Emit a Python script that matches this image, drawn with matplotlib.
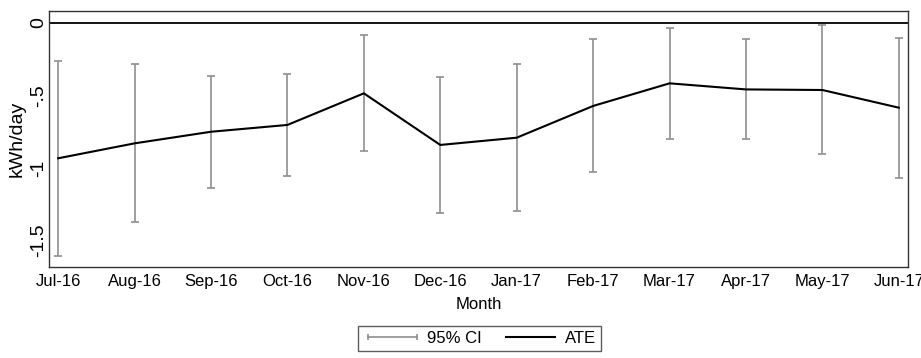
import numpy as np
import matplotlib
matplotlib.use('Agg')
import matplotlib.pyplot as plt
from matplotlib.lines import Line2D

months = ['Jul-16', 'Aug-16', 'Sep-16', 'Oct-16', 'Nov-16', 'Dec-16',
          'Jan-17', 'Feb-17', 'Mar-17', 'Apr-17', 'May-17', 'Jun-17']
ate = [-0.933, -0.83, -0.75, -0.703, -0.485, -0.841,
       -0.791, -0.572, -0.416, -0.458, -0.462, -0.584]
ci_hi = [-0.262, -0.285, -0.363, -0.35, -0.083, -0.375,
         -0.285, -0.113, -0.032, -0.113, -0.016, -0.101]
ci_lo = [-1.605, -1.375, -1.136, -1.053, -0.881, -1.308,
         -1.297, -1.03, -0.802, -0.802, -0.906, -1.067]
yticks = [0, -0.5, -1, -1.5]
ytick_labels = ['0', '-.5', '-1', '-1.5']

wide = ['Liberation Sans', 'DejaVu Sans']
plt.rcParams['font.family'] = wide
fs = 12
fs_y = 14

W, H = 921, 358
fig = plt.figure(figsize=(W / 100, H / 100), dpi=100)
ax = fig.add_axes([49 / W, (H - 267) / H, (908 - 49) / W, (267 - 11) / H])

x = np.arange(len(months))
a = np.array(ate)
lo = np.array(ci_lo)
hi = np.array(ci_hi)
grey = '#8f8f8f'

ax.axhline(0, color='black', lw=1.3, zorder=1)
ax.errorbar(x, a, yerr=[a - lo, hi - a], fmt='none', ecolor=grey,
            elinewidth=1.2, capsize=3, capthick=1.2, zorder=2)
ax.plot(x, a, color='black', lw=1.5, zorder=3)

ax.set_xlim(-0.12, len(months) - 1 + 0.12)
ax.set_ylim(-1.683, 0.083)
ax.set_xticks(x)
ax.set_xticklabels(months, fontsize=fs)
ax.set_yticks(yticks)
ax.set_yticklabels(ytick_labels, fontsize=fs_y, rotation=90, va='center')
ax.tick_params(axis='x', length=0, pad=5)
ax.tick_params(axis='y', length=0, pad=1)
for s in ax.spines.values():
    s.set_color('#333333')
    s.set_linewidth(1.0)

ax.set_xlabel('Month', fontsize=fs, labelpad=6)
fig.text(17.5 / W, 1 - 139 / H, 'kWh/day', rotation=90, fontsize=fs_y,
         ha='center', va='center')

h_ci = Line2D([], [], color=grey, lw=1.2, marker='|', markersize=5,
              markeredgewidth=1.2)
h_ate = Line2D([], [], color='black', lw=1.5)
leg = fig.legend([h_ci, h_ate], ['95% CI', 'ATE'], ncol=2,
                 loc='upper center', bbox_to_anchor=(479.5 / W, 1 - 326 / H),
                 fontsize=fs, frameon=True, fancybox=False, numpoints=2,
                 handlelength=3.5, handletextpad=0.3, columnspacing=1.2,
                 borderpad=0.3, borderaxespad=0)
leg.get_frame().set_edgecolor('#333333')
leg.get_frame().set_linewidth(1.0)

fig.savefig('out.png', dpi=100)
